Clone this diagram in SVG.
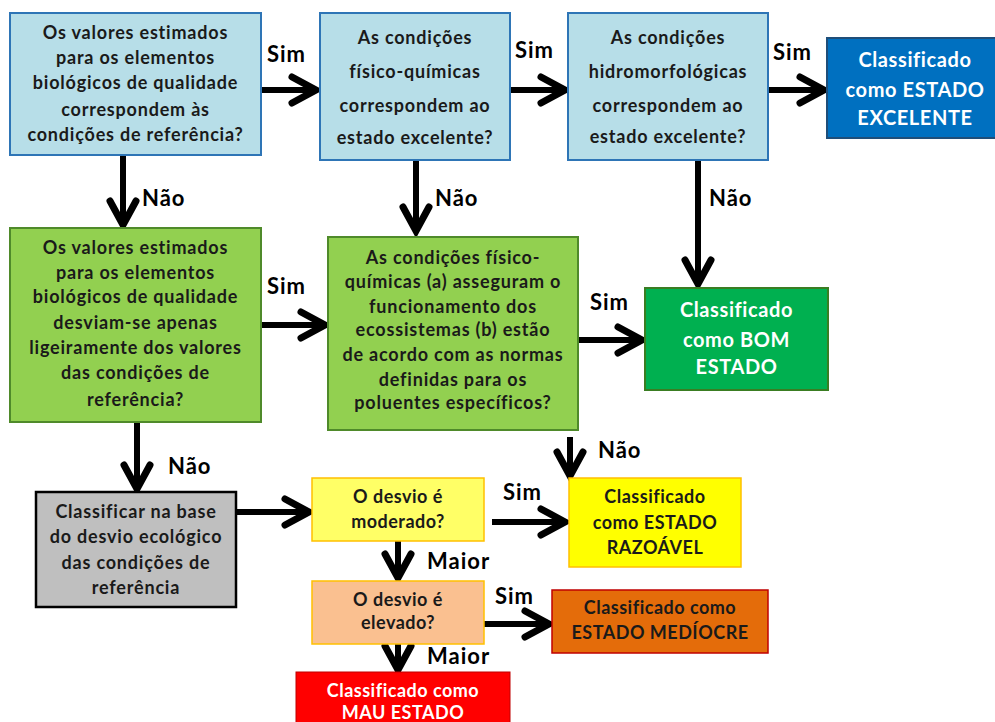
<svg xmlns="http://www.w3.org/2000/svg" width="995" height="722" viewBox="0 0 995 722">
<defs>
<marker id="ah" markerUnits="userSpaceOnUse" markerWidth="40" markerHeight="40" viewBox="-32 -20 40 40" refX="0" refY="0" orient="auto" overflow="visible">
<path d="M-24,-13 L0,0 L-24,13" fill="none" stroke="#000" stroke-width="7" stroke-linecap="round" stroke-linejoin="miter"/>
</marker>
</defs>
<style>
text{font-family:Lato,"Open Sans","Liberation Sans",sans-serif;font-weight:bold;text-anchor:middle}
.q{font-size:18px;letter-spacing:0.8px;fill:#1a1a1a}
.w{font-size:20px;letter-spacing:0.6px;fill:#fff}
.s{font-size:18px;letter-spacing:0.5px;fill:#1a1a1a}
.lbl{font-size:22px;letter-spacing:1px;fill:#000;text-anchor:start}
.c line{stroke:#000;stroke-width:6}
</style>
<rect width="995" height="722" fill="#fff"/>
<g class="c" id="connectors">
<line x1="261" y1="90" x2="316" y2="90" marker-end="url(#ah)"/>
<line x1="510" y1="90" x2="565" y2="90" marker-end="url(#ah)"/>
<line x1="768" y1="90" x2="824" y2="90" marker-end="url(#ah)"/>
<line x1="123" y1="155" x2="123" y2="225" marker-end="url(#ah)"/>
<line x1="416" y1="160" x2="416" y2="231" marker-end="url(#ah)"/>
<line x1="698" y1="160" x2="698" y2="284" marker-end="url(#ah)"/>
<line x1="261" y1="325" x2="325" y2="325" marker-end="url(#ah)"/>
<line x1="578" y1="340" x2="642" y2="340" marker-end="url(#ah)"/>
<line x1="570" y1="437" x2="570" y2="476" marker-end="url(#ah)"/>
<line x1="137" y1="422" x2="137" y2="489" marker-end="url(#ah)"/>
<line x1="236" y1="512" x2="309" y2="512" marker-end="url(#ah)"/>
<line x1="492" y1="522" x2="565" y2="522" marker-end="url(#ah)"/>
<line x1="398" y1="541" x2="398" y2="578" marker-end="url(#ah)"/>
<line x1="484" y1="624" x2="549" y2="624" marker-end="url(#ah)"/>
<line x1="398" y1="644" x2="398" y2="670" marker-end="url(#ah)"/>
<text class="lbl" x="267" y="62">Sim</text>
<text class="lbl" x="515" y="58">Sim</text>
<text class="lbl" x="773" y="60">Sim</text>
<text class="lbl" x="142" y="206">Não</text>
<text class="lbl" x="435" y="206">Não</text>
<text class="lbl" x="709" y="206">Não</text>
<text class="lbl" x="267" y="294">Sim</text>
<text class="lbl" x="590" y="310">Sim</text>
<text class="lbl" x="598" y="458">Não</text>
<text class="lbl" x="168" y="474">Não</text>
<text class="lbl" x="503" y="500">Sim</text>
<text class="lbl" x="427" y="569">Maior</text>
<text class="lbl" x="495" y="604">Sim</text>
<text class="lbl" x="427" y="664">Maior</text>
</g>
<g id="q1">
<rect x="10" y="13" width="251" height="142" fill="#B7DEE8" stroke="#2E75B6" stroke-width="2"/>
<text class="q" x="135.5" y="39">Os valores estimados</text>
<text class="q" x="135.5" y="64">para os elementos</text>
<text class="q" x="135.5" y="89">biológicos de qualidade</text>
<text class="q" x="135.5" y="116">correspondem às</text>
<text class="q" x="135.5" y="141">condições de referência?</text>
</g>
<g id="q2">
<rect x="320" y="13" width="190" height="147" fill="#B7DEE8" stroke="#2E75B6" stroke-width="2"/>
<text class="q" x="415" y="44">As condições</text>
<text class="q" x="415" y="78">físico-químicas</text>
<text class="q" x="415" y="112">correspondem ao</text>
<text class="q" x="415" y="144">estado excelente?</text>
</g>
<g id="q3">
<rect x="568" y="13" width="200" height="147" fill="#B7DEE8" stroke="#2E75B6" stroke-width="2"/>
<text class="q" x="668" y="44">As condições</text>
<text class="q" x="668" y="78">hidromorfológicas</text>
<text class="q" x="668" y="112">correspondem ao</text>
<text class="q" x="668" y="143">estado excelente?</text>
</g>
<g id="excelente">
<rect x="827" y="38" width="176" height="100" fill="#0070C0" stroke="#1F4E79" stroke-width="2"/>
<text class="w" x="915" y="67">Classificado</text>
<text class="w" x="915" y="97">como ESTADO</text>
<text class="w" x="915" y="125">EXCELENTE</text>
</g>
<g id="q4">
<rect x="10" y="228" width="251" height="194" fill="#92D050" stroke="#4F8A2A" stroke-width="2"/>
<text class="q" x="135.5" y="254">Os valores estimados</text>
<text class="q" x="135.5" y="279">para os elementos</text>
<text class="q" x="135.5" y="303">biológicos de qualidade</text>
<text class="q" x="135.5" y="329">desviam-se apenas</text>
<text class="q" x="135.5" y="354">ligeiramente dos valores</text>
<text class="q" x="135.5" y="379">das condições de</text>
<text class="q" x="135.5" y="406">referência?</text>
</g>
<g id="q5">
<rect x="328" y="237" width="250" height="193" fill="#92D050" stroke="#4F8A2A" stroke-width="2"/>
<text class="q" x="453" y="264">As condições físico-</text>
<text class="q" x="453" y="288">químicas (a) asseguram o</text>
<text class="q" x="453" y="313">funcionamento dos</text>
<text class="q" x="453" y="336">ecossistemas  (b) estão</text>
<text class="q" x="453" y="361">de acordo com as normas</text>
<text class="q" x="453" y="386">definidas para os</text>
<text class="q" x="453" y="409">poluentes específicos?</text>
</g>
<g id="bom">
<rect x="645" y="288" width="183" height="102" fill="#00B050" stroke="#3A7D22" stroke-width="2"/>
<text class="w" x="736.5" y="317">Classificado</text>
<text class="w" x="736.5" y="347">como BOM</text>
<text class="w" x="736.5" y="374">ESTADO</text>
</g>
<g id="base">
<rect x="36" y="492" width="200" height="115" fill="#BFBFBF" stroke="#000" stroke-width="2.5"/>
<text class="q" x="136" y="518">Classificar na base</text>
<text class="q" x="136" y="543">do desvio ecológico</text>
<text class="q" x="136" y="569">das condições de</text>
<text class="q" x="136" y="594">referência</text>
</g>
<g id="moderado">
<rect x="312" y="478" width="172" height="63" fill="#FFFF66" stroke="#FFC000" stroke-width="1.5"/>
<text class="s" x="398" y="503">O desvio é</text>
<text class="s" x="398" y="528">moderado?</text>
</g>
<g id="razoavel">
<rect x="569" y="478" width="172" height="89" fill="#FFFF00" stroke="#FFC000" stroke-width="1.5"/>
<text class="s" x="655" y="503">Classificado</text>
<text class="s" x="655" y="529">como ESTADO</text>
<text class="s" x="655" y="554">RAZOÁVEL</text>
</g>
<g id="elevado">
<rect x="312" y="581" width="172" height="63" fill="#FAC090" stroke="#FFC000" stroke-width="1.5"/>
<text class="s" x="398" y="606">O desvio é</text>
<text class="s" x="398" y="629">elevado?</text>
</g>
<g id="mediocre">
<rect x="552" y="590" width="216" height="63" fill="#E46C0A" stroke="#C00000" stroke-width="1.5"/>
<text class="s" x="660" y="614">Classificado como</text>
<text class="s" x="660" y="639">ESTADO MEDÍOCRE</text>
</g>
<g id="mau">
<rect x="296" y="672" width="214" height="60" fill="#FF0000" stroke="#C00000" stroke-width="1"/>
<text class="s" x="403" y="697" style="fill:#fff">Classificado como</text>
<text class="s" x="403" y="719" style="fill:#fff">MAU ESTADO</text>
</g>
</svg>
